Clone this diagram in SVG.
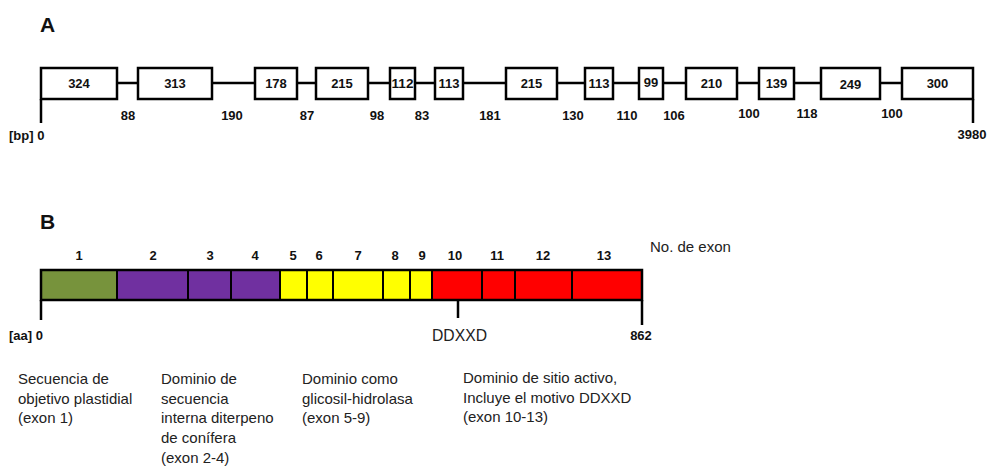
<svg xmlns="http://www.w3.org/2000/svg" width="989" height="471" viewBox="0 0 989 471">
<style>
.bx{fill:#fff;stroke:#000;stroke-width:2.5}
.ln{stroke:#000;stroke-width:2.5;fill:none}
.b{font-family:"Liberation Sans",Arial,sans-serif;font-weight:bold;font-size:13px;fill:#111;text-anchor:middle}
.h{font-family:"Liberation Sans",Arial,sans-serif;font-weight:bold;font-size:21px;fill:#111}
.t{font-family:"Liberation Sans",Arial,sans-serif;font-size:15px;fill:#222}
.seg{stroke:#000;stroke-width:2}
</style>
<text class="h" x="40" y="32">A</text>
<text class="h" x="40" y="229">B</text>
<g id="connectors">
<line class="ln" x1="41" y1="83" x2="973" y2="83"/>
<line class="ln" x1="41" y1="99" x2="41" y2="123"/>
<line class="ln" x1="973" y1="99" x2="973" y2="123"/>
<line class="ln" x1="41" y1="300" x2="41" y2="320"/>
<line class="ln" x1="642" y1="300" x2="642" y2="325"/>
<line class="ln" x1="458" y1="300" x2="458" y2="318"/>
</g>
<g id="geneA">
<g id="e1"><rect class="bx" x="41" y="68" width="76" height="31"/><text class="b" x="79" y="88">324</text></g>
<g id="e2"><rect class="bx" x="138" y="68" width="74" height="31"/><text class="b" x="175" y="88">313</text></g>
<g id="e3"><rect class="bx" x="255" y="68" width="42" height="31"/><text class="b" x="276" y="88">178</text></g>
<g id="e4"><rect class="bx" x="316" y="68" width="52" height="31"/><text class="b" x="342" y="88">215</text></g>
<g id="e5"><rect class="bx" x="390" y="68" width="25" height="31"/><text class="b" x="402.5" y="88" textLength="22" lengthAdjust="spacingAndGlyphs">112</text></g>
<g id="e6"><rect class="bx" x="435" y="68" width="28" height="31"/><text class="b" x="449" y="88">113</text></g>
<g id="e7"><rect class="bx" x="506" y="68" width="51" height="31"/><text class="b" x="531.5" y="88">215</text></g>
<g id="e8"><rect class="bx" x="585" y="68" width="28" height="31"/><text class="b" x="599" y="88">113</text></g>
<g id="e9"><rect class="bx" x="639" y="68" width="24" height="31"/><text class="b" x="651" y="87">99</text></g>
<g id="e10"><rect class="bx" x="686" y="68" width="51" height="31"/><text class="b" x="711.5" y="88">210</text></g>
<g id="e11"><rect class="bx" x="759" y="68" width="35" height="31"/><text class="b" x="776.5" y="88">139</text></g>
<g id="e12"><rect class="bx" x="821" y="68" width="59" height="31"/><text class="b" x="850.5" y="89">249</text></g>
<g id="e13"><rect class="bx" x="902" y="68" width="71" height="31"/><text class="b" x="937.5" y="88">300</text></g>
</g>
<g id="intronLabels">
<text class="b" x="128" y="120">88</text>
<text class="b" x="232" y="120">190</text>
<text class="b" x="307" y="120">87</text>
<text class="b" x="377" y="120">98</text>
<text class="b" x="422" y="120">83</text>
<text class="b" x="490" y="120">181</text>
<text class="b" x="573" y="120">130</text>
<text class="b" x="627" y="120">110</text>
<text class="b" x="674" y="120">106</text>
<text class="b" x="749" y="118">100</text>
<text class="b" x="807" y="118">118</text>
<text class="b" x="892" y="118">100</text>
<text class="b" x="972" y="139">3980</text>
<text class="b" x="9" y="140" style="text-anchor:start">[bp] 0</text>
</g>
<g id="proteinB">
<g id="p1"><rect class="seg" x="41" y="270" width="76" height="30" fill="#77933C"/><text class="b" x="79" y="260">1</text></g>
<g id="p2"><rect class="seg" x="117" y="270" width="71" height="30" fill="#7030A0"/><text class="b" x="153" y="260">2</text></g>
<g id="p3"><rect class="seg" x="188" y="270" width="43" height="30" fill="#7030A0"/><text class="b" x="210" y="260">3</text></g>
<g id="p4"><rect class="seg" x="231" y="270" width="49" height="30" fill="#7030A0"/><text class="b" x="255" y="260">4</text></g>
<g id="p5"><rect class="seg" x="280" y="270" width="27" height="30" fill="#FFFF00"/><text class="b" x="293" y="260">5</text></g>
<g id="p6"><rect class="seg" x="307" y="270" width="26" height="30" fill="#FFFF00"/><text class="b" x="319" y="260">6</text></g>
<g id="p7"><rect class="seg" x="333" y="270" width="50" height="30" fill="#FFFF00"/><text class="b" x="358" y="260">7</text></g>
<g id="p8"><rect class="seg" x="383" y="270" width="27" height="30" fill="#FFFF00"/><text class="b" x="395" y="260">8</text></g>
<g id="p9"><rect class="seg" x="410" y="270" width="22" height="30" fill="#FFFF00"/><text class="b" x="422" y="260">9</text></g>
<g id="p10"><rect class="seg" x="432" y="270" width="50" height="30" fill="#FF0000"/><text class="b" x="455" y="260">10</text></g>
<g id="p11"><rect class="seg" x="482" y="270" width="33" height="30" fill="#FF0000"/><text class="b" x="497" y="260">11</text></g>
<g id="p12"><rect class="seg" x="515" y="270" width="57" height="30" fill="#FF0000"/><text class="b" x="543" y="260">12</text></g>
<g id="p13"><rect class="seg" x="572" y="270" width="70" height="30" fill="#FF0000"/><text class="b" x="604" y="260">13</text></g>
<rect x="41" y="270" width="601" height="30" fill="none" stroke="#000" stroke-width="2.5"/>
</g>
<g id="labelsB">
<text class="t" x="650" y="252">No. de exon</text>
<text class="t" x="432" y="341" style="font-size:17px" textLength="55" lengthAdjust="spacingAndGlyphs">DDXXD</text>
<text class="b" x="641" y="340">862</text>
<text class="b" x="9" y="340" style="text-anchor:start">[aa] 0</text>
</g>
<g id="desc1"><text class="t" x="18" y="384">Secuencia de<tspan x="18" dy="19.7">objetivo plastidial</tspan><tspan x="18" dy="19.7">(exon 1)</tspan></text></g>
<g id="desc2"><text class="t" x="161" y="384">Dominio de<tspan x="161" dy="19.7">secuencia</tspan><tspan x="161" dy="19.7">interna diterpeno</tspan><tspan x="161" dy="19.7">de conífera</tspan><tspan x="161" dy="19.7">(exon 2-4)</tspan></text></g>
<g id="desc3"><text class="t" x="302" y="384">Dominio como<tspan x="302" dy="19.7">glicosil-hidrolasa</tspan><tspan x="302" dy="19.7">(exon 5-9)</tspan></text></g>
<g id="desc4"><text class="t" x="463" y="383">Dominio de sitio activo,<tspan x="463" dy="19.7">Incluye el motivo DDXXD</tspan><tspan x="463" dy="19.7">(exon 10-13)</tspan></text></g>
</svg>
